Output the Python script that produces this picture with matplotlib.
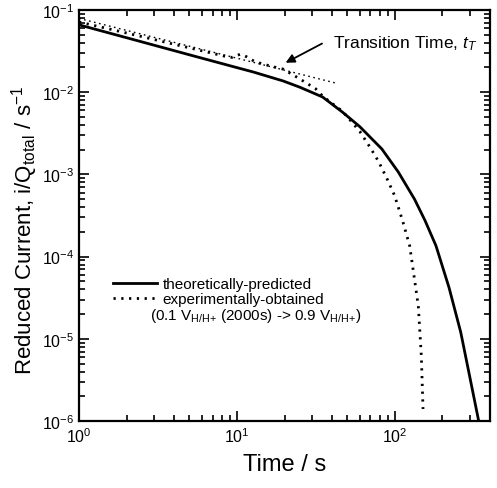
import numpy as np
import matplotlib
matplotlib.use("Agg")
import matplotlib.pyplot as plt

plt.rcParams["font.family"] = ["Liberation Sans", "DejaVu Sans"]
plt.rcParams["mathtext.fontset"] = "custom"
plt.rcParams["mathtext.rm"] = "Liberation Sans"
plt.rcParams["mathtext.it"] = "Liberation Sans:italic"
plt.rcParams["mathtext.bf"] = "Liberation Sans:bold"

# theoretically-predicted curve
t_theo = np.array([1, 2, 5, 10, 12.7, 19.6, 25, 34.8, 46.4, 60, 82.6, 105, 133, 155, 182, 220, 261, 300, 339])
i_theo = np.array([0.066, 0.046, 0.0285, 0.0199, 0.0176, 0.0137, 0.0115, 0.00875, 0.00575, 0.0038,
                   0.00204, 1.07e-3, 5.0e-4, 2.75e-4, 1.35e-4, 4.2e-5, 1.2e-5, 3.2e-6, 1.0e-6])

# experimentally-obtained curve
t_exp = np.array([1, 2, 4, 6, 8.3, 9.3, 10.5, 11.5, 13, 16, 19.6, 25, 31.5, 34.8, 40, 46.4, 53, 60.1,
                  70, 79, 90, 99.6, 112, 124, 131, 140.6, 146.9, 150.6])
i_exp = np.array([0.0715, 0.0525, 0.0383, 0.0319, 0.0275, 0.0265, 0.029, 0.027, 0.0235, 0.021, 0.0191,
                  0.0145, 0.0110, 0.0090, 0.0073, 0.0059, 0.0044, 0.0033, 0.0021, 0.00142, 8.5e-4,
                  5.5e-4, 2.7e-4, 1.35e-4, 6.5e-5, 2.5e-5, 6.2e-6, 1.4e-6])

# t^-1/2 extrapolation line
t_fit = np.array([1, 43])
i_fit = np.array([0.079, 0.0128])

arrow_tip = (19.6, 0.022)
arrow_tail = (35.8, 0.0405)
label_pos = (40.5, 0.0405)

fig = plt.figure(figsize=(4.97, 4.89), dpi=100)
ax = fig.add_axes([0.159, 0.137, 0.827, 0.8405])

ax.plot(t_theo, i_theo, color="black", lw=2.0, label="theoretically-predicted")
ax.plot(t_exp, i_exp, color="black", lw=2.0, linestyle=(0, (0.8, 2.0)), label="experimentally-obtained")
ax.plot(t_fit, i_fit, color="black", lw=1.0, linestyle=(0, (1.2, 2.5)))

ax.annotate("", xy=arrow_tip, xytext=arrow_tail,
            arrowprops=dict(arrowstyle="-|>", color="black", lw=1.3, mutation_scale=13))
ax.text(label_pos[0], label_pos[1], r"Transition Time, $t_{T}$", fontsize=12.5, va="center", ha="left")

ax.set_xscale("log")
ax.set_yscale("log")
ax.set_xlim(1, 400)
ax.set_ylim(1e-6, 1e-1)

ax.set_xlabel("Time / s", fontsize=17, labelpad=6)
ax.set_ylabel(r"Reduced Current, i/Q$_{\mathrm{total}}$ / s$^{-1}$", fontsize=16)
ax.yaxis.set_label_coords(-0.095, 0.465)

ax.tick_params(which="both", direction="in", top=True, right=True, labelsize=11.5, width=1.2)
ax.tick_params(which="major", length=7)
ax.tick_params(which="minor", length=4)
for sp in ax.spines.values():
    sp.set_linewidth(1.6)

leg = ax.legend(loc="upper left", bbox_to_anchor=(0.083, 0.35), frameon=False, fontsize=11,
                handlelength=2.9, handletextpad=0.35, labelspacing=0.05, borderpad=0, borderaxespad=0)
ax.text(0.173, 0.258, r"(0.1 V$_{\mathrm{H/H{+}}}$ (2000s) -> 0.9 V$_{\mathrm{H/H{+}}}$)",
        transform=ax.transAxes, fontsize=11, va="center", ha="left")

plt.savefig("out.png", dpi=100)
